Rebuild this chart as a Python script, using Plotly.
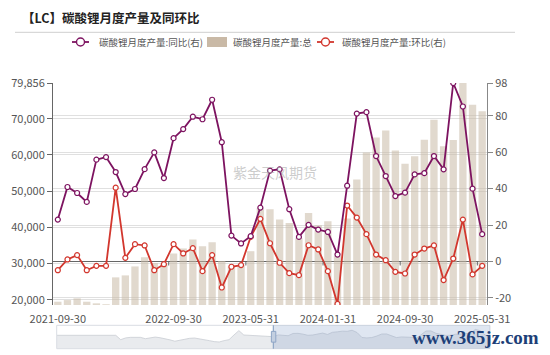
import plotly.graph_objects as go
import pandas as pd

# ---------------- data ----------------
months = [d.strftime("%Y-%m-%d") for d in pd.date_range("2021-09-30", "2025-05-31", freq="ME")]

total_prod = [19450, 19900, 20380, 19450, 19000, 18750, 26170, 26720, 29190, 31760,
              30100, 29840, 32780, 34160, 36640, 34780, 35900, 30700, 29200, 29560,
              33400, 45260, 44990, 42150, 41210, 37000, 43970, 40580, 41680, 32040,
              42420, 53170, 60690, 64820, 66750, 61240, 57570, 59590, 64190, 69700,
              62420, 64080, 79856, 73830, 72070]

yoy = [23.0, 40.9, 37.6, 32.7, 55.9, 57.3, 49.1, 37.0, 39.8, 50.7,
       59.9, 45.8, 67.7, 72.7, 79.5, 78.1, 88.8, 65.5, 14.2, 9.9,
       13.9, 29.6, 49.9, 50.6, 28.7, 13.5, 20.1, 17.5, 16.2, 3.8,
       41.6, 81.2, 82.0, 57.9, 46.9, 35.9, 37.8, 47.8, 48.5, 57.9,
       50.6, 98.0, 85.1, 40.0, 15.0]

mom = [-4.8, 1.1, 3.5, -4.8, -2.4, -2.4, 40.5, 2.0, 9.5, 8.8,
       -4.8, -1.5, 9.5, 4.4, 7.3, -5.3, 3.5, -14.3, -2.9, -2.0,
       13.5, 23.4, 10.0, -0.7, -6.4, -7.5, 8.9, 6.6, -5.3, -23.3,
       30.7, 24.1, 15.0, 3.8, 0.7, -5.7, -6.6, 3.8, 7.1, 8.8,
       -10.2, 1.6, 23.0, -7.1, -2.4]

# earlier YoY history shown only in the zoom-slider preview
yoy_history = [37, 37, 37, 37, 37, 37, 37, 37, 37, 37, 37, 37, 37,
               -8, 10, 16, 14, 16, 2, 12, 19, 12, 4, -10, -24, -12, 2, 6, 9, 2,
               -8, -18, -28, -32, -18, -8, 40, 85, 40, 36, 36, 34, 30, 26]

x_ticks = ["2021-09-30", "2022-09-30", "2023-05-31", "2024-01-31", "2024-09-30", "2025-05-31"]
left_ticks = [20000, 30000, 40000, 50000, 60000, 70000, 79856]
right_ticks = [-20, 0, 20, 40, 60, 80, 98]

name_yoy = "碳酸锂月度产量:同比(右)"
name_total = "碳酸锂月度产量:总"
name_mom = "碳酸锂月度产量:环比(右)"
title = "【LC】碳酸锂月度产量及同环比"

# ---------------- style ----------------
W, H = 550, 355
ML, MR, MT, MB = 53, 60, 83, 6
PW, PH = W - ML - MR, H - MT - MB
FONT = "Noto Sans CJK SC"
C_YOY = "#7d1360"
C_MOM = "#d2372e"
C_BAR = "#c9b9a6"
GRID = "#e0e0e0"


def px(x):
    return (x - ML) / PW


def py(y):
    return (H - MB - y) / PH


fig = go.Figure()

fig.add_trace(go.Bar(x=months, y=total_prod, name=name_total, marker=dict(color=C_BAR, opacity=0.55, line=dict(width=0)),
                     yaxis="y", xaxis="x", showlegend=False))
fig.add_trace(go.Scatter(x=months, y=mom, name=name_mom, mode="lines+markers", yaxis="y2", xaxis="x",
                         line=dict(color=C_MOM, width=1.8),
                         marker=dict(symbol="circle", size=5, color="white", line=dict(color=C_MOM, width=1.2)),
                         showlegend=False))
fig.add_trace(go.Scatter(x=months, y=yoy, name=name_yoy, mode="lines+markers", yaxis="y2", xaxis="x",
                         line=dict(color=C_YOY, width=1.8),
                         marker=dict(symbol="circle", size=5, color="white", line=dict(color=C_YOY, width=1.2)),
                         showlegend=False))

# slider preview (full history)
full_series = yoy_history + yoy
idx = list(range(len(full_series)))
fig.add_trace(go.Scatter(x=[0, len(full_series) - 1], y=[-101, -101], mode="lines", line=dict(width=0),
                         xaxis="x3", yaxis="y3", showlegend=False, hoverinfo="skip"))
fig.add_trace(go.Scatter(x=idx, y=full_series, mode="lines", fill="tonexty", fillcolor="#e9ebee",
                         line=dict(color="#c9cdd3", width=0.8), xaxis="x3", yaxis="y3",
                         showlegend=False, hoverinfo="skip"))

shapes = []
annotations = []

# title and separator
annotations.append(dict(text="<b>" + title + "</b>", x=px(20), y=py(17.5), xref="paper", yref="paper",
                        xanchor="left", yanchor="middle", showarrow=False,
                        font=dict(family=FONT, size=12.5, color="#222")))
shapes.append(dict(type="line", xref="paper", yref="paper", x0=px(15), x1=px(515), y0=py(32.3), y1=py(32.3),
                   line=dict(color="#cfcfcf", width=1)))

# custom legend
LY = 42
for x0, color, label, tx in [(72, C_YOY, name_yoy, 97), (317, C_MOM, name_mom, 340)]:
    shapes.append(dict(type="line", xref="paper", yref="paper", x0=px(x0), x1=px(x0 + 17), y0=py(LY), y1=py(LY),
                       line=dict(color=color, width=1.8)))
    shapes.append(dict(type="circle", xref="paper", yref="paper", x0=px(x0 + 4.5), x1=px(x0 + 12.5),
                       y0=py(LY + 4), y1=py(LY - 4), fillcolor="white", line=dict(color=color, width=1.4)))
    annotations.append(dict(text=label, x=px(tx), y=py(LY), xref="paper", yref="paper", xanchor="left",
                            yanchor="middle", showarrow=False, font=dict(family=FONT, size=9.5, color="#555")))
shapes.append(dict(type="rect", xref="paper", yref="paper", x0=px(207), x1=px(227), y0=py(47), y1=py(37),
                   fillcolor=C_BAR, line=dict(width=0)))
annotations.append(dict(text=name_total, x=px(231), y=py(LY), xref="paper", yref="paper", xanchor="left",
                        yanchor="middle", showarrow=False, font=dict(family=FONT, size=9.5, color="#555")))

# center watermark
annotations.append(dict(text="紫金天风期货", x=px(275), y=py(172), xref="paper", yref="paper",
                        xanchor="center", yanchor="middle",
                        showarrow=False, font=dict(family=FONT, size=14, color="rgba(170,170,170,0.6)")))

# small ticks on the zero line at labelled category boundaries
for t in x_ticks[1:]:
    i = months.index(t)
    shapes.append(dict(type="line", xref="x", yref="y2", x0=i - 0.5, x1=i - 0.5, y0=0, y1=-2.2,
                       line=dict(color="#666", width=1)))

# slider frame, selection and handle
n_hist = len(yoy_history)
n_all = len(full_series)
shapes.append(dict(type="rect", xref="x3 domain", yref="y3 domain", x0=0, x1=1, y0=0, y1=1,
                   line=dict(color="#d9dde3", width=1), fillcolor="rgba(0,0,0,0)"))
shapes.append(dict(type="rect", xref="x3", yref="y3 domain", x0=n_hist, x1=n_all - 1, y0=0, y1=1,
                   line=dict(width=0), fillcolor="rgba(140,165,205,0.28)"))
shapes.append(dict(type="line", xref="x3", yref="y3 domain", x0=n_hist, x1=n_hist, y0=0, y1=1,
                   line=dict(color="#8fa6c6", width=1.2)))
shapes.append(dict(type="rect", xref="x3", yref="y3 domain", x0=n_hist - 0.4, x1=n_hist + 0.5, y0=0.28, y1=0.74,
                   line=dict(color="#8fa6c6", width=1), fillcolor="#c3cfe0"))

# site watermark
annotations.append(dict(text="<b>www.365jz.com</b>", x=px(475), y=py(337), xref="paper", yref="paper",
                        xanchor="center", yanchor="middle",
                        showarrow=False, font=dict(family="Liberation Serif", size=19, color="#1d3f78")))

fig.update_layout(
    width=W, height=H, autosize=False,
    margin=dict(l=ML, r=MR, t=MT, b=MB, autoexpand=False),
    paper_bgcolor="white", plot_bgcolor="white",
    font=dict(family=FONT, size=11, color="#555"),
    bargap=0.24,
    showlegend=False,
    xaxis=dict(type="category", domain=[0, px(487)], range=[-0.5, len(months) - 0.5], automargin=False,
               tickvals=x_ticks, ticktext=x_ticks, showgrid=False, showline=False, zeroline=False,
               ticks="outside", ticklen=4, tickcolor="rgba(0,0,0,0)",
               tickfont=dict(size=11, color="#555"), anchor="y"),
    yaxis=dict(domain=[py(305), 1], range=[18540, 79856], tickvals=left_ticks, automargin=False,
               ticktext=[f"{v:,}" for v in left_ticks], showgrid=True, gridcolor=GRID, gridwidth=1,
               showline=True, linecolor="#666", linewidth=1, ticks="outside", ticklen=5, tickcolor="#666",
               zeroline=False, tickfont=dict(size=11, color="#555")),
    yaxis2=dict(overlaying="y", side="right", anchor="x", range=[-23.9, 98], tickvals=right_ticks, automargin=False,
                ticktext=[str(v) for v in right_ticks], showgrid=True, gridcolor=GRID, gridwidth=1,
                showline=True, linecolor="#888", linewidth=1, ticks="outside", ticklen=5, tickcolor="#888",
                zeroline=True, zerolinecolor="#666", zerolinewidth=1, tickfont=dict(size=11, color="#555")),
    xaxis3=dict(domain=[px(56.7), 1], range=[0, n_all - 1], visible=False, anchor="y3", automargin=False),
    yaxis3=dict(domain=[py(348.7), py(325.3)], range=[-101, 140], visible=False, anchor="x3", automargin=False),
    shapes=shapes, annotations=annotations,
)

fig.write_html("out.html", config={"displayModeBar": False},
               post_script="document.body.style.margin='0px';")
